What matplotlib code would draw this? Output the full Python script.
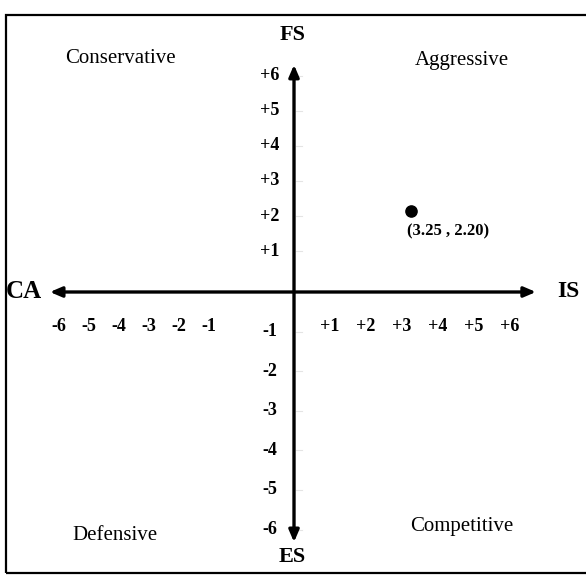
import matplotlib
matplotlib.use("Agg")
import matplotlib.pyplot as plt
from matplotlib.patches import Rectangle

# SPACE matrix: one strategic position
x_ticks = [-6, -5, -4, -3, -2, -1, 1, 2, 3, 4, 5, 6]
y_ticks = [-6, -5, -4, -3, -2, -1, 1, 2, 3, 4, 5, 6]
point_x = [3.25]
point_y = [2.20]
point_label = "(3.25 , 2.20)"
axis_names = {"left": "CA", "right": "IS", "top": "FS", "bottom": "ES"}
quadrants = ["Conservative", "Aggressive", "Defensive", "Competitive"]

plt.rcParams['font.family'] = ['Liberation Serif', 'DejaVu Serif']

fig = plt.figure(figsize=(5.86, 5.79), dpi=100)
ax = fig.add_axes([0, 0, 1, 1])
ax.set_xlim(-8.167, 8.111)
ax.set_ylim(-7.757, 7.892)
ax.axis('off')

# outer frame
fig.patches.append(Rectangle((6 / 586, 6 / 579), 1.0, 558 / 579, transform=fig.transFigure,
                             fill=False, edgecolor='black', linewidth=1.6))

arrow = dict(arrowstyle='<|-|>,head_length=0.7,head_width=0.3', color='black',
             linewidth=2.4, shrinkA=0, shrinkB=0)
ax.annotate('', xy=(6.72, 0), xytext=(-6.78, 0), arrowprops=arrow)
ax.annotate('', xy=(0, 6.14), xytext=(0, -6.76), arrowprops=arrow)

bold = dict(fontweight='bold', ha='center', va='center')
for v in x_ticks:
    lab = f"+{v}" if v > 0 else str(v)
    # the negative side labels sit packed to the left, as in the original sketch
    pos = v if v > 0 else v * 0.83 - 1.55
    ax.text(pos, -0.92, lab, fontsize=13, **bold)
for v in y_ticks:
    lab = f"+{v}" if v > 0 else str(v)
    pos = v * 0.95 + 0.15 if v > 0 else v * 1.07
    ax.text(-0.67, pos, lab, fontsize=13, **bold)
    # faint tick marks next to the vertical axis
    ax.plot([0.05, 0.22], [pos, pos], color='#e4e4e4', linewidth=0.8)

ax.text(-7.5, 0, axis_names["left"], fontsize=18, **bold)
ax.text(7.61, 0, axis_names["right"], fontsize=17, **bold)
ax.text(-0.05, 6.95, axis_names["top"], fontsize=16, **bold)
ax.text(-0.05, -7.16, axis_names["bottom"], fontsize=16, **bold)

q_pos = [(-4.83, 6.32), (4.67, 6.27), (-4.97, -6.57), (4.67, -6.35)]
for name, (qx, qy) in zip(quadrants, q_pos):
    ax.text(qx, qy, name, fontsize=15, ha='center', va='center')

ax.scatter(point_x, point_y, s=65, color='black', zorder=5)
ax.annotate(point_label, (point_x[0], point_y[0]), xytext=(27, -15),
            textcoords='offset points', fontsize=12, fontweight='bold',
            ha='center', va='center')

fig.savefig('out.png', dpi=100)
